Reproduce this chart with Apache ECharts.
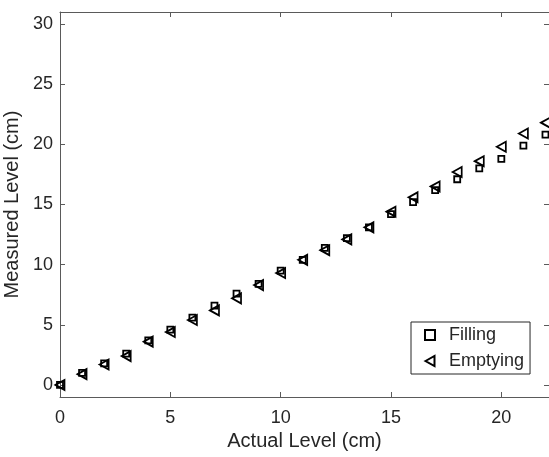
<!DOCTYPE html>
<html>
<head>
<meta charset="utf-8">
<script src="https://cdn.jsdelivr.net/npm/echarts@6/dist/echarts.min.js"></script>
<style>html,body{margin:0;padding:0;background:#fff;}#c{width:549px;height:457px;}</style>
</head>
<body>
<div id="c"></div>
<script>
const actualLevel = [0,1,2,3,4,5,6,7,8,9,10,11,12,13,14,15,16,17,18,19,20,21,22];
const filling  = [0.0,1.0,1.8,2.6,3.7,4.6,5.6,6.6,7.6,8.4,9.5,10.4,11.4,12.2,13.1,14.2,15.2,16.2,17.1,18.0,18.8,19.9,20.8];
const emptying = [0.0,0.9,1.7,2.4,3.6,4.4,5.4,6.2,7.2,8.3,9.3,10.4,11.2,12.1,13.1,14.4,15.6,16.5,17.7,18.6,19.8,20.9,21.8];
const yTicks = [0,5,10,15,20,25,30];

const FONT = '"Liberation Sans", Arial, Helvetica, sans-serif';
const AX = '#262626';
const chart = echarts.init(document.getElementById('c'), null, {renderer:'canvas'});
const lineStyle = {color:'#5a5a5a', width:1};
chart.setOption({
  animation:false,
  backgroundColor:'#fff',
  grid:{left:60, right:0, top:12, bottom:60, containLabel:false, outerBoundsMode:'none'},
  legend:{
    orient:'vertical', left:411, top:322,
    padding:[3,6,3,13], itemGap:6, itemWidth:10, itemHeight:10,
    borderColor:AX, borderWidth:1, backgroundColor:'#fff',
    textStyle:{fontFamily:FONT, fontSize:18, color:AX, lineHeight:20, padding:[0,0,0,9]},
    data:[
      {name:'Filling', icon:'path://M2,2L8,2L8,8L2,8Z'},
      {name:'Emptying', icon:'path://M0.5,5L9.5,0L9.5,10Z'}
    ]
  },
  xAxis:[{
    type:'value', min:0, max:22.16, interval:5, position:'bottom',
    name:'Actual Level (cm)', nameLocation:'middle', nameGap:34,
    nameTextStyle:{fontFamily:FONT, fontSize:20, color:AX},
    axisLine:{show:true, onZero:false, lineStyle}, axisTick:{show:true, inside:true, length:5, lineStyle},
    axisLabel:{fontFamily:FONT, fontSize:18, color:AX, margin:12, showMaxLabel:false},
    splitLine:{show:false}
  },{
    type:'value', min:0, max:22.16, interval:5, position:'top',
    axisLine:{show:true, onZero:false, lineStyle}, axisTick:{show:true, inside:true, length:5, lineStyle},
    axisLabel:{show:false}, splitLine:{show:false}
  }],
  yAxis:[{
    type:'value', min:-1, max:31, position:'left',
    name:'Measured Level (cm)', nameLocation:'middle', nameGap:32,
    nameTextStyle:{fontFamily:FONT, fontSize:20, color:AX},
    axisLine:{show:true, onZero:false, lineStyle},
    axisTick:{show:true, inside:true, length:5, lineStyle, customValues:yTicks},
    axisLabel:{fontFamily:FONT, fontSize:18, color:AX, margin:7, customValues:yTicks},
    splitLine:{show:false}
  },{
    type:'value', min:-1, max:31, position:'right',
    axisLine:{show:true, onZero:false, lineStyle},
    axisTick:{show:true, inside:true, length:5, lineStyle, customValues:yTicks},
    axisLabel:{show:false, customValues:yTicks}, splitLine:{show:false}
  }],
  series:[{
    name:'Filling', type:'scatter', clip:false,
    symbol:'rect', symbolSize:6,
    itemStyle:{color:'rgba(0,0,0,0)', borderColor:'#000', borderWidth:1.8, opacity:1},
    data: actualLevel.map((x,i)=>[x, filling[i]])
  },{
    name:'Emptying', type:'scatter', clip:false,
    symbol:'triangle', symbolSize:[10,9], symbolRotate:90,
    itemStyle:{color:'rgba(0,0,0,0)', borderColor:'#000', borderWidth:1.8, opacity:1},
    data: actualLevel.map((x,i)=>[x, emptying[i]])
  }]
});
</script>
</body>
</html>
